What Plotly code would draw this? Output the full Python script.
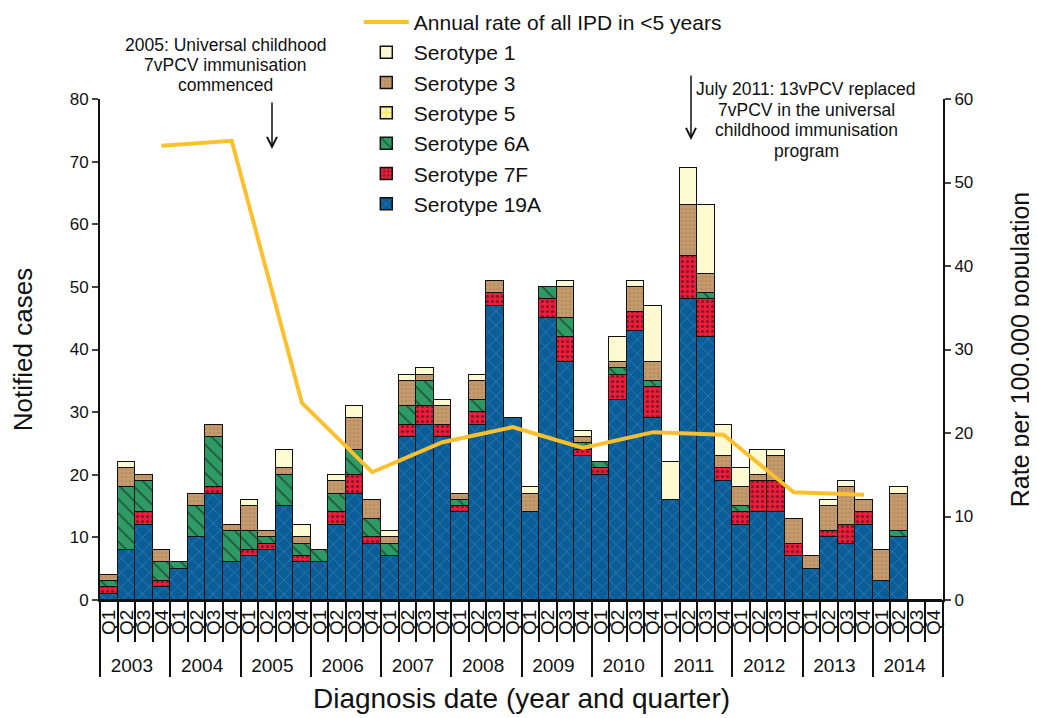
import plotly.graph_objects as go

years = [str(y) for y in range(2003, 2015)]
quarters = ["Q1", "Q2", "Q3", "Q4"]

# Notified cases per quarter, 2003 Q1 .. 2014 Q4
s19a = [1, 8, 12, 2, 5, 10, 17, 6, 7, 8, 15, 6, 6, 12, 17, 9, 7, 26, 28, 26, 14, 28, 47, 29,
        14, 45, 38, 23, 20, 32, 43, 29, 16, 48, 42, 19, 12, 14, 14, 7, 5, 10, 9, 12, 3, 10, 0, 0]
s7f = [1, 0, 2, 1, 0, 0, 1, 0, 1, 1, 0, 1, 0, 2, 3, 1, 0, 2, 3, 2, 1, 2, 2, 0,
       0, 3, 4, 1, 1, 4, 3, 5, 0, 7, 6, 2, 2, 5, 5, 2, 0, 1, 3, 2, 0, 0, 0, 0]
s6a = [1, 10, 5, 3, 1, 5, 8, 5, 3, 1, 5, 2, 2, 3, 4, 3, 2, 3, 4, 0, 1, 2, 0, 0,
       0, 2, 3, 1, 1, 1, 0, 1, 0, 0, 1, 0, 1, 0, 0, 0, 0, 0, 0, 0, 0, 1, 0, 0]
s5 = [0] * 48
s3 = [1, 3, 1, 2, 0, 2, 2, 1, 4, 1, 1, 1, 0, 2, 5, 3, 1, 4, 1, 3, 1, 3, 2, 0,
      3, 0, 5, 1, 0, 1, 4, 3, 0, 8, 3, 2, 3, 1, 4, 4, 2, 4, 6, 2, 5, 6, 0, 0]
s1 = [0, 1, 0, 0, 0, 0, 0, 0, 1, 0, 3, 2, 0, 1, 2, 0, 1, 1, 1, 1, 0, 1, 0, 0,
      1, 0, 1, 1, 0, 4, 1, 9, 6, 6, 11, 5, 3, 4, 1, 0, 0, 1, 1, 0, 0, 1, 0, 0]

# Annual rate of all IPD in <5 years (per 100,000), plotted at Q4 of each year
rate_years = [str(y) for y in range(2003, 2014)]
rate = [54.4, 55.0, 23.6, 15.3, 18.9, 20.7, 18.2, 20.1, 19.8, 12.9, 12.6]

note_2005 = ["2005: Universal childhood", "7vPCV immunisation", "commenced"]
note_2011 = ["July 2011: 13vPCV replaced", "7vPCV in the universal",
             "childhood immunisation", "program"]

xq = [[y for y in years for _ in quarters], [q for _ in years for q in quarters]]
xr = [rate_years, ["Q4"] * len(rate_years)]

FONT = "Liberation Sans, Arial, sans-serif"

series = [
    ("Serotype 19A", s19a, "#0b5d97", "x", "#5c9fd6", 10, 0.15),
    ("Serotype 7F", s7f, "#ec1c3a", ".", "#111111", 5, 0.3),
    ("Serotype 6A", s6a, "#2e9a64", "\\", "#111111", 10, 0.18),
    ("Serotype 5", s5, "#f4e86a", ".", "#ffffff", 7, 0.5),
    ("Serotype 3", s3, "#c4996b", ".", "#8a6a45", 4, 0.15),
    ("Serotype 1", s1, "#fdf9d1", "", "#fdf9d1", 8, 0.2),
]
ranks = {"Serotype 1": 2, "Serotype 3": 3, "Serotype 5": 4, "Serotype 6A": 5,
         "Serotype 7F": 6, "Serotype 19A": 7}

fig = go.Figure()
for name, vals, col, shape, fg, sz, sol in series:
    pattern = dict(shape=shape, fgcolor=fg, fillmode="overlay", size=sz, solidity=sol)
    fig.add_trace(go.Bar(
        x=xq, y=vals, name=name, legendrank=ranks[name],
        marker=dict(color=col, line=dict(color="#111111", width=1.5), pattern=pattern),
    ))

fig.add_trace(go.Scatter(
    x=xr, y=rate, yaxis="y2", mode="lines", name="Annual rate of all IPD in <5 years",
    line=dict(color="#fbc02d", width=4), legendrank=1,
))

# plot area on screen: x 100..943 px, y 99..600 px (page has an 8px body margin)
def px_x(x):
    return (x - 100) / 843.0

def px_y(y):
    return (600 - y) / 501.0

annotations = []
for i, line in enumerate(note_2005):
    annotations.append(dict(xref="paper", yref="paper", x=px_x(225), y=px_y(45 + 20 * i),
                            xanchor="center", yanchor="middle", text=line,
                            showarrow=False, font=dict(size=17.5)))
for i, line in enumerate(note_2011):
    annotations.append(dict(xref="paper", yref="paper", x=px_x(806), y=px_y(89 + 20.5 * i),
                            xanchor="center", yanchor="middle", text=line,
                            showarrow=False, font=dict(size=17.5)))
annotations.append(dict(xref="paper", yref="paper", x=px_x(272), y=px_y(149), ax=0, ay=-48,
                        text="", showarrow=True, arrowhead=5, arrowsize=1.3,
                        arrowwidth=1.5, arrowcolor="#111111"))
annotations.append(dict(xref="paper", yref="paper", x=px_x(691), y=px_y(140), ax=0, ay=-66,
                        text="", showarrow=True, arrowhead=5, arrowsize=1.3,
                        arrowwidth=1.5, arrowcolor="#111111"))

fig.update_layout(
    width=1029, height=710,
    margin=dict(l=92, r=94, t=91, b=118, autoexpand=False),
    barmode="stack", bargap=0,
    plot_bgcolor="white", paper_bgcolor="white",
    font=dict(family=FONT, size=17, color="#111111"),
    showlegend=True,
    legend=dict(x=0.307, y=1.194, xanchor="left", yanchor="top", traceorder="normal",
                font=dict(size=21), bgcolor="rgba(255,255,255,0)", itemwidth=45,
                tracegroupgap=0),
    xaxis=dict(
        type="multicategory", showline=True, linecolor="#111111", linewidth=2,
        tickmode="linear", tick0=0, dtick=1,
        ticks="outside", tickson="boundaries", ticklen=40, tickwidth=1.5, tickcolor="#111111",
        tickangle=-90, tickfont=dict(size=19),
        showdividers=True, dividercolor="#111111", dividerwidth=2,
        title=dict(text="Diagnosis date (year and quarter)", font=dict(size=28), standoff=14),
        showgrid=False, automargin=False,
    ),
    yaxis=dict(
        range=[0, 80], dtick=10, showline=True, linecolor="#111111", linewidth=2,
        ticks="outside", ticklen=6, tickwidth=1.5, tickfont=dict(size=17),
        title=dict(text="Notified cases", font=dict(size=26), standoff=32),
        showgrid=False, zeroline=False, automargin=False,
    ),
    yaxis2=dict(
        range=[0, 60], dtick=10, overlaying="y", side="right", showline=True,
        linecolor="#111111", linewidth=2, ticks="outside", ticklen=6, tickwidth=1.5,
        tickfont=dict(size=17),
        title=dict(text="Rate per 100,000 population", font=dict(size=25), standoff=39),
        showgrid=False, zeroline=False, automargin=False,
    ),
    annotations=annotations,
)

fig.write_html("out.html")
